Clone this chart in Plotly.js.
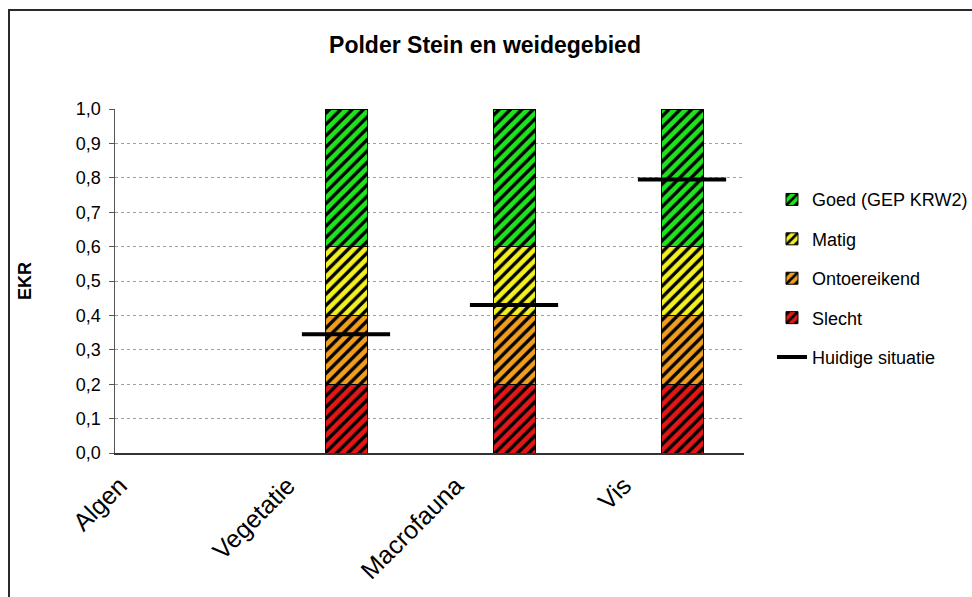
<!DOCTYPE html>
<html>
<head>
<meta charset="utf-8">
<script src="https://cdn.plot.ly/plotly-3.0.1.min.js"></script>
<style>
  html, body { margin: 0; padding: 0; overflow: hidden; background: #fff; }
  #wrap { position: relative; width: 972px; height: 597px; overflow: hidden; }
  #chart { position: absolute; left: 0; top: 0; width: 972px; height: 597px; }
  #frame { position: absolute; left: 8px; top: 9px; width: 2000px; height: 2000px;
           border-left: 2px solid #2a2a2a; border-top: 2px solid #2a2a2a; pointer-events: none; }
</style>
</head>
<body>
<div id="wrap"><div id="chart"></div><div id="frame"></div></div>
<script>
// ---- data ----
const categories = ["Algen", "Vegetatie", "Macrofauna", "Vis"];
const slecht       = [null, 0.2, 0.2, 0.2];
const ontoereikend = [null, 0.2, 0.2, 0.2];
const matig        = [null, 0.2, 0.2, 0.2];
const goed         = [null, 0.4, 0.4, 0.4];
const huidige      = [null, 0.345, 0.43, 0.795];
const seriesNames  = ["Slecht", "Ontoereikend", "Matig", "Goed (GEP KRW2)"];
const lineName     = "Huidige situatie";

const colors = ["#e41616", "#f09e1c", "#f2f01e", "#1ee41e"];
const ranks  = [4, 3, 2, 1];
const vals   = [slecht, ontoereikend, matig, goed];
const font = "Liberation Sans, Arial, sans-serif";

const traces = vals.map((v, i) => ({
  type: "bar",
  x: categories,
  y: v,
  name: seriesNames[i],
  width: 0.25,
  legendrank: ranks[i],
  legendgroup: "g" + i,
  marker: {
    color: colors[i],
    line: { color: "#000", width: 1 },
    pattern: { shape: "/", fgcolor: "#000", bgcolor: colors[i], size: 8, solidity: 0.42 }
  },
  hoverinfo: "skip"
}));

traces.push({
  type: "scatter",
  mode: "markers",
  x: categories,
  y: huidige,
  showlegend: false,
  marker: { symbol: "line-ew", size: 63, color: "#000", line: { color: "#000", width: 4 } },
  hoverinfo: "skip"
});
traces.push({
  type: "scatter",
  mode: "lines",
  x: [null], y: [null],
  name: lineName,
  legendrank: 5,
  legendgroup: "g4",
  line: { color: "#000", width: 4 }
});

// helper trace so the label axis is drawn
traces.push({ type: "scatter", x: [0], y: [null], xaxis: "x2", yaxis: "y", showlegend: false, hoverinfo: "skip", mode: "markers" });

const layout = {
  width: 972, height: 597,
  margin: { l: 115, r: 228, t: 109, b: 144, autoexpand: false },
  paper_bgcolor: "#fff",
  plot_bgcolor: "#fff",
  separators: ",.",
  barmode: "stack",
  font: { family: font, size: 18, color: "#000" },
  title: {
    text: "<b>Polder Stein en weidegebied</b>",
    font: { family: font, size: 23, color: "#000" },
    x: 0.499, xanchor: "center", xref: "container",
    y: 0.925, yanchor: "middle", yref: "container"
  },
  xaxis: {
    type: "category",
    range: [-0.375, 3.369],
    showticklabels: false,
    ticks: "",
    showgrid: false,
    showline: true, linecolor: "#333", linewidth: 1.5,
    zeroline: false, fixedrange: true
  },
  xaxis2: {
    overlaying: "x", anchor: "y", side: "bottom",
    type: "linear",
    range: [-0.029, 3.715],
    tickmode: "array",
    tickvals: [0, 1, 2, 3],
    ticktext: categories,
    tickangle: -45,
    ticks: "",
    ticklabelstandoff: 12,
    showgrid: false, zeroline: false, showline: false,
    tickfont: { family: font, size: 25, color: "#000" }
  },
  yaxis: {
    range: [0, 1],
    dtick: 0.1,
    tickformat: ".1f",
    ticks: "outside", ticklen: 5, tickcolor: "#555",
    ticklabelstandoff: 4,
    showline: true, linecolor: "#555", linewidth: 1.5,
    showgrid: true, gridcolor: "#a0a0a0", griddash: "dot", gridwidth: 1,
    zeroline: false,
    tickfont: { family: font, size: 18, color: "#000" },
    title: { text: "<b>EKR</b>", font: { family: font, size: 18, color: "#000" }, standoff: 39 }
  },
  legend: {
    x: 1.0445, xanchor: "left",
    y: 0.79, yanchor: "top",
    traceorder: "grouped",
    tracegroupgap: 13,
    font: { family: font, size: 18, color: "#000" },
    bgcolor: "rgba(0,0,0,0)"
  },
  showlegend: true
};

Plotly.newPlot("chart", traces, layout, { staticPlot: true, displayModeBar: false });
</script>
</body>
</html>
